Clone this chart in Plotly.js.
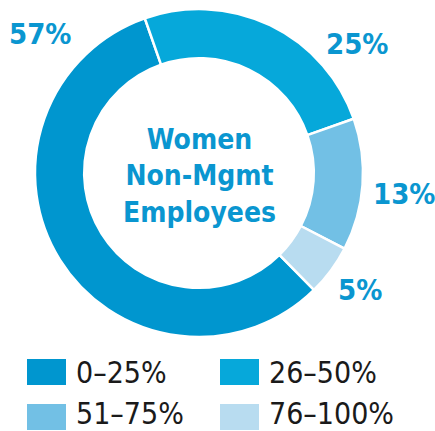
<!DOCTYPE html>
<html>
<head>
<meta charset="utf-8">
<script src="https://cdn.plot.ly/plotly-3.0.1.min.js"></script>
<style>
  html, body { margin: 0; padding: 0; background: #ffffff; }
  #chart { width: 435px; height: 431px; }
</style>
</head>
<body>
<div id="chart"></div>
<script>
// ---- data ----
const categories = ["0–25%", "26–50%", "51–75%", "76–100%"];
const values = [57, 25, 13, 5];
const centerTitle = ["Women", "Non-Mgmt", "Employees"];

// ---- styles ----
const colors = ["#0096cf", "#06a8da", "#72c0e5", "#b8dcf0"];
const labelColor = "#0a96d0";
const FONT = '"DejaVu Sans Condensed", "Liberation Sans Narrow", Arial, sans-serif';

const W = 435, H = 431;
const px = x => x / W;
const py = y => 1 - y / H;

// outside percentage label positions (pixel centres)
const labelPos = [[40, 34], [357, 44], [404, 194], [360, 290]];
// legend layout (pixel)
const legCols = [27, 220];
const legSwatchRows = [372, 417];
const legTextRows = [372, 413];
const swW = 39, swH = 26;

const trace = {
  type: "pie",
  labels: categories,
  values: values,
  sort: false,
  direction: "clockwise",
  rotation: 135.5,
  hole: 0.70,
  marker: { colors: colors, line: { color: "#ffffff", width: 2.5 } },
  textinfo: "none",
  hoverinfo: "label+percent",
  showlegend: false,
  domain: { x: [px(35), px(363)], y: [py(337), py(9)] }
};

const annotations = [];
const shapes = [];

// center title
annotations.push({
  xref: "paper", yref: "paper", x: px(199), y: py(176),
  text: centerTitle.map(s => "<b>" + s + "</b>").join("<br>"),
  showarrow: false, xanchor: "center", yanchor: "middle",
  font: { family: FONT, size: 28, color: labelColor },
  align: "center"
});

// value labels
values.forEach((v, i) => {
  annotations.push({
    xref: "paper", yref: "paper", x: px(labelPos[i][0]), y: py(labelPos[i][1]),
    text: "<b>" + v + "%</b>", showarrow: false,
    xanchor: "center", yanchor: "middle",
    font: { family: FONT, size: 29, color: labelColor }
  });
});

// legend
categories.forEach((c, i) => {
  const col = i % 2, row = Math.floor(i / 2);
  const x0 = legCols[col];
  const ys = legSwatchRows[row], yt = legTextRows[row];
  shapes.push({
    type: "rect", xref: "paper", yref: "paper",
    x0: px(x0), x1: px(x0 + swW), y0: py(ys + swH / 2), y1: py(ys - swH / 2),
    fillcolor: colors[i], line: { width: 0 }
  });
  annotations.push({
    xref: "paper", yref: "paper", x: px(x0 + swW + 9), y: py(yt),
    text: c, showarrow: false, xanchor: "left", yanchor: "middle",
    borderpad: 0,
    font: { family: FONT, size: 30, color: "#1a1a1a" }
  });
});

const layout = {
  width: W, height: H,
  margin: { l: 0, r: 0, t: 0, b: 0 },
  paper_bgcolor: "#ffffff",
  plot_bgcolor: "#ffffff",
  annotations: annotations,
  shapes: shapes,
  showlegend: false
};

Plotly.newPlot("chart", [trace], layout, { displayModeBar: false, staticPlot: true });
</script>
</body>
</html>
